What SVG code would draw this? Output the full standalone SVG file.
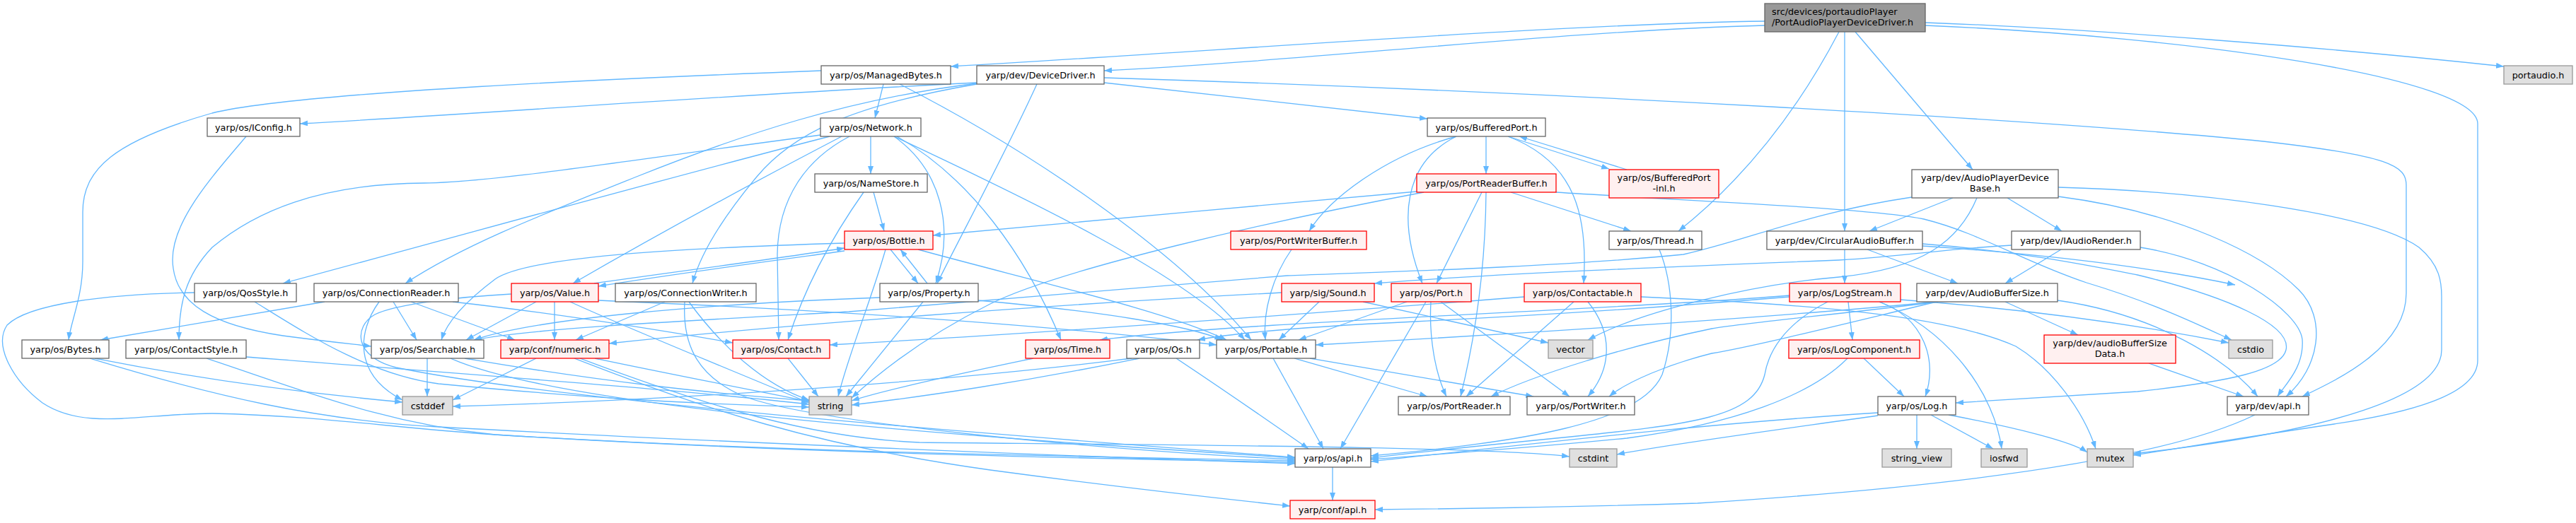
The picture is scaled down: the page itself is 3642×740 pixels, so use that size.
<svg xmlns="http://www.w3.org/2000/svg" width="3642" height="740" viewBox="0 0 3642 740">
<style>
.e{fill:none;stroke:#63b8ff;stroke-width:1.3;marker-end:url(#ah)}
.n rect{fill:#ffffff;stroke:#666666;stroke-width:1.3}
.r rect{fill:#fff0f0;stroke:#ff0000}
.s rect{fill:#e0e0e0;stroke:#999999}
.root rect{fill:#999999;stroke:#666666}
text{font-family:"DejaVu Sans","Liberation Sans",sans-serif;font-size:12.8px;fill:#000000;text-anchor:middle}
.root text{text-anchor:start}
</style>
<defs>
<marker id="ah" viewBox="0 0 11 8" refX="11" refY="4" markerWidth="11" markerHeight="8" markerUnits="userSpaceOnUse" orient="auto">
<path d="M0,0L11,4L0,8z" fill="#63b8ff"/>
</marker>
</defs>
<rect width="3642" height="740" fill="#ffffff"/>
<g id="edges">
<path class="e" d="M2495,30 C2200,34 1700,74 1344,94"/>
<path class="e" d="M2495,36 C2200,44 1850,86 1561,100"/>
<path class="e" d="M2600,45 C2545,150 2470,250 2373,327"/>
<path class="e" d="M2608,45 L2608,327"/>
<path class="e" d="M2623,45 L2789,240"/>
<path class="e" d="M2722,32 C2950,40 3300,68 3540,94"/>
<path class="e" d="M2722,36 C3100,52 3503,110 3503,175 L3503,510 C3503,560 3400,585 3300,600 C3150,622 3060,638 3016,644"/>
<path class="e" d="M1161,100 C900,110 420,130 300,160 C160,200 117,240 117,300 L117,370 C117,420 100,455 97,481"/>
<path class="e" d="M1249,119 L1237,167"/>
<path class="e" d="M1272,119 C1450,210 1660,350 1769,481"/>
<path class="e" d="M1381,117 C1000,136 700,160 424,175"/>
<path class="e" d="M1466,119 C1420,220 1360,330 1325,401"/>
<path class="e" d="M1561,110 C2200,130 2900,170 3200,200 C3380,220 3402,235 3402,262 L3402,415 C3402,490 3310,535 3255,561"/>
<path class="e" d="M1561,117 L2018,168"/>
<path class="e" d="M1381,119 C1200,150 1120,190 1070,250 C1020,310 990,360 979,401"/>
<path class="e" d="M1381,118 C1200,140 1050,190 900,250 C750,310 650,350 573,401"/>
<path class="e" d="M1231,193 L1231,246"/>
<path class="e" d="M1160,191 C900,225 700,258 600,259 C450,260 360,300 300,350 C262,390 253,430 253,481"/>
<path class="e" d="M1173,193 C950,250 700,320 400,401"/>
<path class="e" d="M1190,193 C1100,240 950,320 810,401"/>
<path class="e" d="M1201,193 C1140,225 1100,280 1099,360 L1101,481"/>
<path class="e" d="M1264,193 C1330,240 1350,320 1323,401"/>
<path class="e" d="M1268,193 C1370,250 1450,360 1500,481"/>
<path class="e" d="M1264,193 C1450,280 1680,390 1760,481"/>
<path class="e" d="M1235,272 L1250,327"/>
<path class="e" d="M1221,272 C1180,330 1140,400 1114,481"/>
<path class="e" d="M1259,353 L1298,401"/>
<path class="e" d="M1311,401 L1273,353"/>
<path class="e" d="M1194,344 C1000,350 750,360 700,395 C660,425 632,455 624,481"/>
<path class="e" d="M840,401 C950,385 1100,366 1194,351"/>
<path class="e" d="M1194,355 C1100,368 950,388 846,405"/>
<path class="e" d="M1252,353 C1230,430 1200,500 1185,561"/>
<path class="e" d="M1298,353 C1450,395 1650,440 1734,481"/>
<path class="e" d="M784,427 L784,481"/>
<path class="e" d="M758,427 L659,481"/>
<path class="e" d="M806,427 C900,470 1050,530 1144,570"/>
<path class="e" d="M846,425 C1200,440 1500,462 1720,488"/>
<path class="e" d="M723,416 C650,420 560,430 530,445 C500,462 500,505 560,520 C800,570 1500,622 1831,647"/>
<path class="e" d="M1305,427 L1196,561"/>
<path class="e" d="M1383,425 C1550,440 1680,460 1728,481"/>
<path class="e" d="M1244,421 C1000,430 760,450 670,481"/>
<path class="e" d="M348,193 C300,250 235,320 245,380 C252,430 300,460 400,475 C460,483 500,487 525,490"/>
<path class="e" d="M275,414 C150,416 40,430 10,460 C-10,490 20,540 60,570 C120,610 200,585 300,585 C450,588 550,605 700,615 C1100,640 1500,645 1831,652"/>
<path class="e" d="M360,427 C430,470 520,530 620,543 C850,565 1000,572 1144,576"/>
<path class="e" d="M348,505 C600,525 950,550 1144,572"/>
<path class="e" d="M292,507 C450,560 550,600 700,615 C1100,640 1500,648 1831,654"/>
<path class="e" d="M134,507 C300,540 450,558 569,569"/>
<path class="e" d="M127,507 C300,560 450,595 620,604 C1000,625 1500,645 1831,656"/>
<path class="e" d="M459,427 L142,481"/>
<path class="e" d="M556,427 L589,481"/>
<path class="e" d="M536,427 C505,470 500,530 569,566"/>
<path class="e" d="M581,427 L728,481"/>
<path class="e" d="M640,427 C800,445 950,470 1036,485"/>
<path class="e" d="M940,427 L814,481"/>
<path class="e" d="M968,427 C965,480 980,530 1050,560 C1150,600 1600,640 1831,650"/>
<path class="e" d="M974,427 C1020,490 1080,545 1144,566"/>
<path class="e" d="M1114,507 L1157,561"/>
<path class="e" d="M758,507 L640,566"/>
<path class="e" d="M841,507 C950,530 1080,555 1144,568"/>
<path class="e" d="M812,507 C1000,580 1150,630 1400,665 C1600,692 1750,708 1824,716"/>
<path class="e" d="M820,507 C1000,575 1150,620 1300,626 C1700,630 2100,632 2219,646"/>
<path class="e" d="M604,507 L604,561"/>
<path class="e" d="M637,507 C800,580 1400,620 1831,648"/>
<path class="e" d="M657,507 C850,540 1000,556 1144,567"/>
<path class="e" d="M1461,507 C1350,530 1250,552 1204,567"/>
<path class="e" d="M1611,507 C1450,540 1300,562 1204,573"/>
<path class="e" d="M1663,507 C1720,545 1800,600 1850,635"/>
<path class="e" d="M1600,507 C1300,545 900,568 640,575"/>
<path class="e" d="M1800,507 L1871,635"/>
<path class="e" d="M1830,507 L2018,561"/>
<path class="e" d="M1852,507 L2168,561"/>
<path class="e" d="M1826,353 C1800,390 1785,440 1789,481"/>
<path class="e" d="M2101,193 L2101,246"/>
<path class="e" d="M2059,193 C1960,220 1880,280 1851,327"/>
<path class="e" d="M2059,193 C1985,230 1975,310 2011,401"/>
<path class="e" d="M2132,193 C2230,230 2245,310 2239,401"/>
<path class="e" d="M2132,193 L2275,239"/>
<path class="e" d="M2300,240 L2148,193"/>
<path class="e" d="M2003,271 C1800,290 1500,315 1319,333"/>
<path class="e" d="M2013,272 C1800,312 1500,380 1400,430 C1300,480 1240,530 1204,563"/>
<path class="e" d="M2095,272 L2031,401"/>
<path class="e" d="M2101,272 C2100,400 2080,500 2065,561"/>
<path class="e" d="M2136,272 L2306,327"/>
<path class="e" d="M2200,272 C2400,285 2650,295 2720,310 C2800,330 2860,370 2950,400 C3050,430 3120,465 3155,481"/>
<path class="e" d="M2346,353 C2365,400 2370,470 2350,530 C2320,600 2150,625 1938,645"/>
<path class="e" d="M1989,427 L1836,481"/>
<path class="e" d="M2016,427 L1895,635"/>
<path class="e" d="M2023,427 C2020,480 2030,530 2045,561"/>
<path class="e" d="M2037,427 L2219,561"/>
<path class="e" d="M2225,427 L2073,561"/>
<path class="e" d="M2245,427 C2280,470 2280,520 2245,561"/>
<path class="e" d="M2155,420 C1900,440 1500,470 1173,488"/>
<path class="e" d="M2320,420 C2550,430 2750,445 2850,490 C2900,520 2945,580 2963,635"/>
<path class="e" d="M1865,427 L1808,481"/>
<path class="e" d="M1927,427 L2189,485"/>
<path class="e" d="M1812,414 C1500,430 1100,460 861,486"/>
<path class="e" d="M2844,347 C2750,352 2700,362 2600,368 C2300,380 2100,388 1943,401"/>
<path class="e" d="M2703,279 C2560,300 2470,340 2380,360 C2200,378 1950,385 1820,390 L1200,441 C950,455 750,465 670,481"/>
<path class="e" d="M2761,280 L2643,327"/>
<path class="e" d="M2838,280 L2915,327"/>
<path class="e" d="M2910,265 C3100,270 3350,300 3420,350 C3450,375 3452,400 3452,420 L3452,495 C3452,560 3300,610 3016,642"/>
<path class="e" d="M2910,278 C3080,300 3200,360 3250,410 C3290,450 3280,520 3232,561"/>
<path class="e" d="M2795,280 C2770,340 2720,380 2600,392 C2480,402 2320,440 2245,481"/>
<path class="e" d="M2608,353 L2608,401"/>
<path class="e" d="M2640,353 L2768,401"/>
<path class="e" d="M2718,348 C2900,360 3050,380 3160,403"/>
<path class="e" d="M2718,345 C2850,355 2950,375 3022,389 C3150,420 3240,460 3232,495 C3225,525 3150,540 3022,554 C2900,562 2820,567 2765,570"/>
<path class="e" d="M2914,353 L2835,401"/>
<path class="e" d="M3026,350 C3150,370 3250,440 3255,480 C3258,520 3230,545 3220,561"/>
<path class="e" d="M2613,427 L2619,481"/>
<path class="e" d="M2657,427 C2720,450 2740,510 2722,561"/>
<path class="e" d="M2657,427 C2760,470 2820,560 2830,635"/>
<path class="e" d="M2584,427 C2520,460 2500,500 2495,530 C2480,590 2400,600 2200,620 C2100,630 2000,640 1938,648"/>
<path class="e" d="M2530,420 C2350,435 2200,445 2000,455 C1850,462 1750,470 1693,481"/>
<path class="e" d="M2530,418 C2300,438 1750,455 1555,481"/>
<path class="e" d="M2687,424 C2900,440 3050,465 3151,485"/>
<path class="e" d="M2635,507 L2692,561"/>
<path class="e" d="M2612,507 C2560,560 2450,600 2300,620 C2150,635 2000,645 1938,650"/>
<path class="e" d="M2655,584 C2400,600 2150,630 1938,653"/>
<path class="e" d="M2655,588 C2500,610 2350,630 2286,643"/>
<path class="e" d="M2710,587 L2710,635"/>
<path class="e" d="M2730,587 L2818,635"/>
<path class="e" d="M2755,587 C2850,605 2930,625 2951,640"/>
<path class="e" d="M2835,427 L2938,474"/>
<path class="e" d="M2909,425 C3050,445 3150,510 3192,561"/>
<path class="e" d="M2738,427 C2500,450 2100,475 1860,488"/>
<path class="e" d="M2740,427 C2600,445 2480,455 2420,465 C2300,490 2170,530 2108,561"/>
<path class="e" d="M2738,427 C2600,460 2480,490 2420,500 C2360,515 2300,540 2275,561"/>
<path class="e" d="M3038,514 L3172,561"/>
<path class="e" d="M3188,587 C3100,630 2900,680 2400,712 C2200,718 2050,720 1944,721"/>
<path class="e" d="M1884,661 L1884,708"/>
</g>
<g id="root" class="n root"><rect x="2495" y="5" width="227" height="40"/><text x="2505" y="20.5">src/devices/portaudioPlayer</text><text x="2505" y="35.5">/PortAudioPlayerDeviceDriver.h</text></g>
<g id="n_mb" class="n"><rect x="1161" y="93" width="183" height="26"/><text x="1252.5" y="110.5">yarp/os/ManagedBytes.h</text></g>
<g id="n_dd" class="n"><rect x="1381" y="93" width="180" height="26"/><text x="1471" y="110.5">yarp/dev/DeviceDriver.h</text></g>
<g id="n_pa" class="n s"><rect x="3540" y="93" width="97" height="26"/><text x="3588.5" y="110.5">portaudio.h</text></g>
<g id="n_ic" class="n"><rect x="293" y="167" width="131" height="26"/><text x="358.5" y="184.5">yarp/os/IConfig.h</text></g>
<g id="n_nw" class="n"><rect x="1160" y="167" width="142" height="26"/><text x="1231" y="184.5">yarp/os/Network.h</text></g>
<g id="n_bp" class="n"><rect x="2018" y="167" width="167" height="26"/><text x="2101.5" y="184.5">yarp/os/BufferedPort.h</text></g>
<g id="n_ns" class="n"><rect x="1152" y="246" width="159" height="26"/><text x="1231.5" y="263.5">yarp/os/NameStore.h</text></g>
<g id="n_prb" class="n r"><rect x="2003" y="246" width="197" height="26"/><text x="2101.5" y="263.5">yarp/os/PortReaderBuffer.h</text></g>
<g id="n_bpi" class="n r"><rect x="2275" y="240" width="155" height="40"/><text x="2352.5" y="256">yarp/os/BufferedPort</text><text x="2352.5" y="271">-inl.h</text></g>
<g id="n_apdb" class="n"><rect x="2703" y="240" width="207" height="40"/><text x="2806.5" y="256">yarp/dev/AudioPlayerDevice</text><text x="2806.5" y="271">Base.h</text></g>
<g id="n_bot" class="n r"><rect x="1194" y="327" width="125" height="26"/><text x="1256.5" y="344.5">yarp/os/Bottle.h</text></g>
<g id="n_pwb" class="n r"><rect x="1740" y="327" width="192" height="26"/><text x="1836" y="344.5">yarp/os/PortWriterBuffer.h</text></g>
<g id="n_th" class="n"><rect x="2275" y="327" width="131" height="26"/><text x="2340.5" y="344.5">yarp/os/Thread.h</text></g>
<g id="n_cab" class="n"><rect x="2498" y="327" width="220" height="26"/><text x="2608" y="344.5">yarp/dev/CircularAudioBuffer.h</text></g>
<g id="n_iar" class="n"><rect x="2844" y="327" width="182" height="26"/><text x="2935" y="344.5">yarp/dev/IAudioRender.h</text></g>
<g id="n_qos" class="n"><rect x="275" y="401" width="144" height="26"/><text x="347" y="418.5">yarp/os/QosStyle.h</text></g>
<g id="n_cr" class="n"><rect x="444" y="401" width="204" height="26"/><text x="546" y="418.5">yarp/os/ConnectionReader.h</text></g>
<g id="n_val" class="n r"><rect x="723" y="401" width="123" height="26"/><text x="784.5" y="418.5">yarp/os/Value.h</text></g>
<g id="n_cw" class="n"><rect x="870" y="401" width="199" height="26"/><text x="969.5" y="418.5">yarp/os/ConnectionWriter.h</text></g>
<g id="n_prop" class="n"><rect x="1244" y="401" width="139" height="26"/><text x="1313.5" y="418.5">yarp/os/Property.h</text></g>
<g id="n_snd" class="n r"><rect x="1812" y="401" width="131" height="26"/><text x="1877.5" y="418.5">yarp/sig/Sound.h</text></g>
<g id="n_port" class="n r"><rect x="1967" y="401" width="113" height="26"/><text x="2023.5" y="418.5">yarp/os/Port.h</text></g>
<g id="n_ctb" class="n r"><rect x="2155" y="401" width="165" height="26"/><text x="2237.5" y="418.5">yarp/os/Contactable.h</text></g>
<g id="n_ls" class="n r"><rect x="2530" y="401" width="157" height="26"/><text x="2608.5" y="418.5">yarp/os/LogStream.h</text></g>
<g id="n_abs" class="n"><rect x="2710" y="401" width="199" height="26"/><text x="2809.5" y="418.5">yarp/dev/AudioBufferSize.h</text></g>
<g id="n_by" class="n"><rect x="31" y="481" width="123" height="26"/><text x="92.5" y="498.5">yarp/os/Bytes.h</text></g>
<g id="n_cs" class="n"><rect x="178" y="481" width="170" height="26"/><text x="263" y="498.5">yarp/os/ContactStyle.h</text></g>
<g id="n_sr" class="n"><rect x="525" y="481" width="159" height="26"/><text x="604.5" y="498.5">yarp/os/Searchable.h</text></g>
<g id="n_num" class="n r"><rect x="708" y="481" width="153" height="26"/><text x="784.5" y="498.5">yarp/conf/numeric.h</text></g>
<g id="n_ct" class="n r"><rect x="1036" y="481" width="137" height="26"/><text x="1104.5" y="498.5">yarp/os/Contact.h</text></g>
<g id="n_tm" class="n r"><rect x="1450" y="481" width="119" height="26"/><text x="1509.5" y="498.5">yarp/os/Time.h</text></g>
<g id="n_os" class="n"><rect x="1593" y="481" width="103" height="26"/><text x="1644.5" y="498.5">yarp/os/Os.h</text></g>
<g id="n_ptb" class="n"><rect x="1720" y="481" width="140" height="26"/><text x="1790" y="498.5">yarp/os/Portable.h</text></g>
<g id="n_vec" class="n s"><rect x="2189" y="481" width="63" height="26"/><text x="2220.5" y="498.5">vector</text></g>
<g id="n_lc" class="n r"><rect x="2529" y="481" width="185" height="26"/><text x="2621.5" y="498.5">yarp/os/LogComponent.h</text></g>
<g id="n_absd" class="n r"><rect x="2890" y="474" width="186" height="40"/><text x="2983" y="490">yarp/dev/audioBufferSize</text><text x="2983" y="505">Data.h</text></g>
<g id="n_cstdio" class="n s"><rect x="3151" y="481" width="62" height="26"/><text x="3182" y="498.5">cstdio</text></g>
<g id="n_cstddef" class="n s"><rect x="569" y="561" width="71" height="26"/><text x="604.5" y="578.5">cstddef</text></g>
<g id="n_str" class="n s"><rect x="1144" y="561" width="60" height="26"/><text x="1174" y="578.5">string</text></g>
<g id="n_pr" class="n"><rect x="1977" y="561" width="158" height="26"/><text x="2056" y="578.5">yarp/os/PortReader.h</text></g>
<g id="n_pw" class="n"><rect x="2159" y="561" width="152" height="26"/><text x="2235" y="578.5">yarp/os/PortWriter.h</text></g>
<g id="n_log" class="n"><rect x="2655" y="561" width="110" height="26"/><text x="2710" y="578.5">yarp/os/Log.h</text></g>
<g id="n_dapi" class="n"><rect x="3149" y="561" width="115" height="26"/><text x="3206.5" y="578.5">yarp/dev/api.h</text></g>
<g id="n_oapi" class="n"><rect x="1831" y="635" width="107" height="26"/><text x="1884.5" y="652.5">yarp/os/api.h</text></g>
<g id="n_cstdint" class="n s"><rect x="2219" y="635" width="67" height="26"/><text x="2252.5" y="652.5">cstdint</text></g>
<g id="n_sv" class="n s"><rect x="2661" y="635" width="98" height="26"/><text x="2710" y="652.5">string_view</text></g>
<g id="n_iosfwd" class="n s"><rect x="2801" y="635" width="65" height="26"/><text x="2833.5" y="652.5">iosfwd</text></g>
<g id="n_mutex" class="n s"><rect x="2951" y="635" width="65" height="26"/><text x="2983.5" y="652.5">mutex</text></g>
<g id="n_capi" class="n r"><rect x="1824" y="708" width="120" height="26"/><text x="1884" y="725.5">yarp/conf/api.h</text></g>
</svg>
